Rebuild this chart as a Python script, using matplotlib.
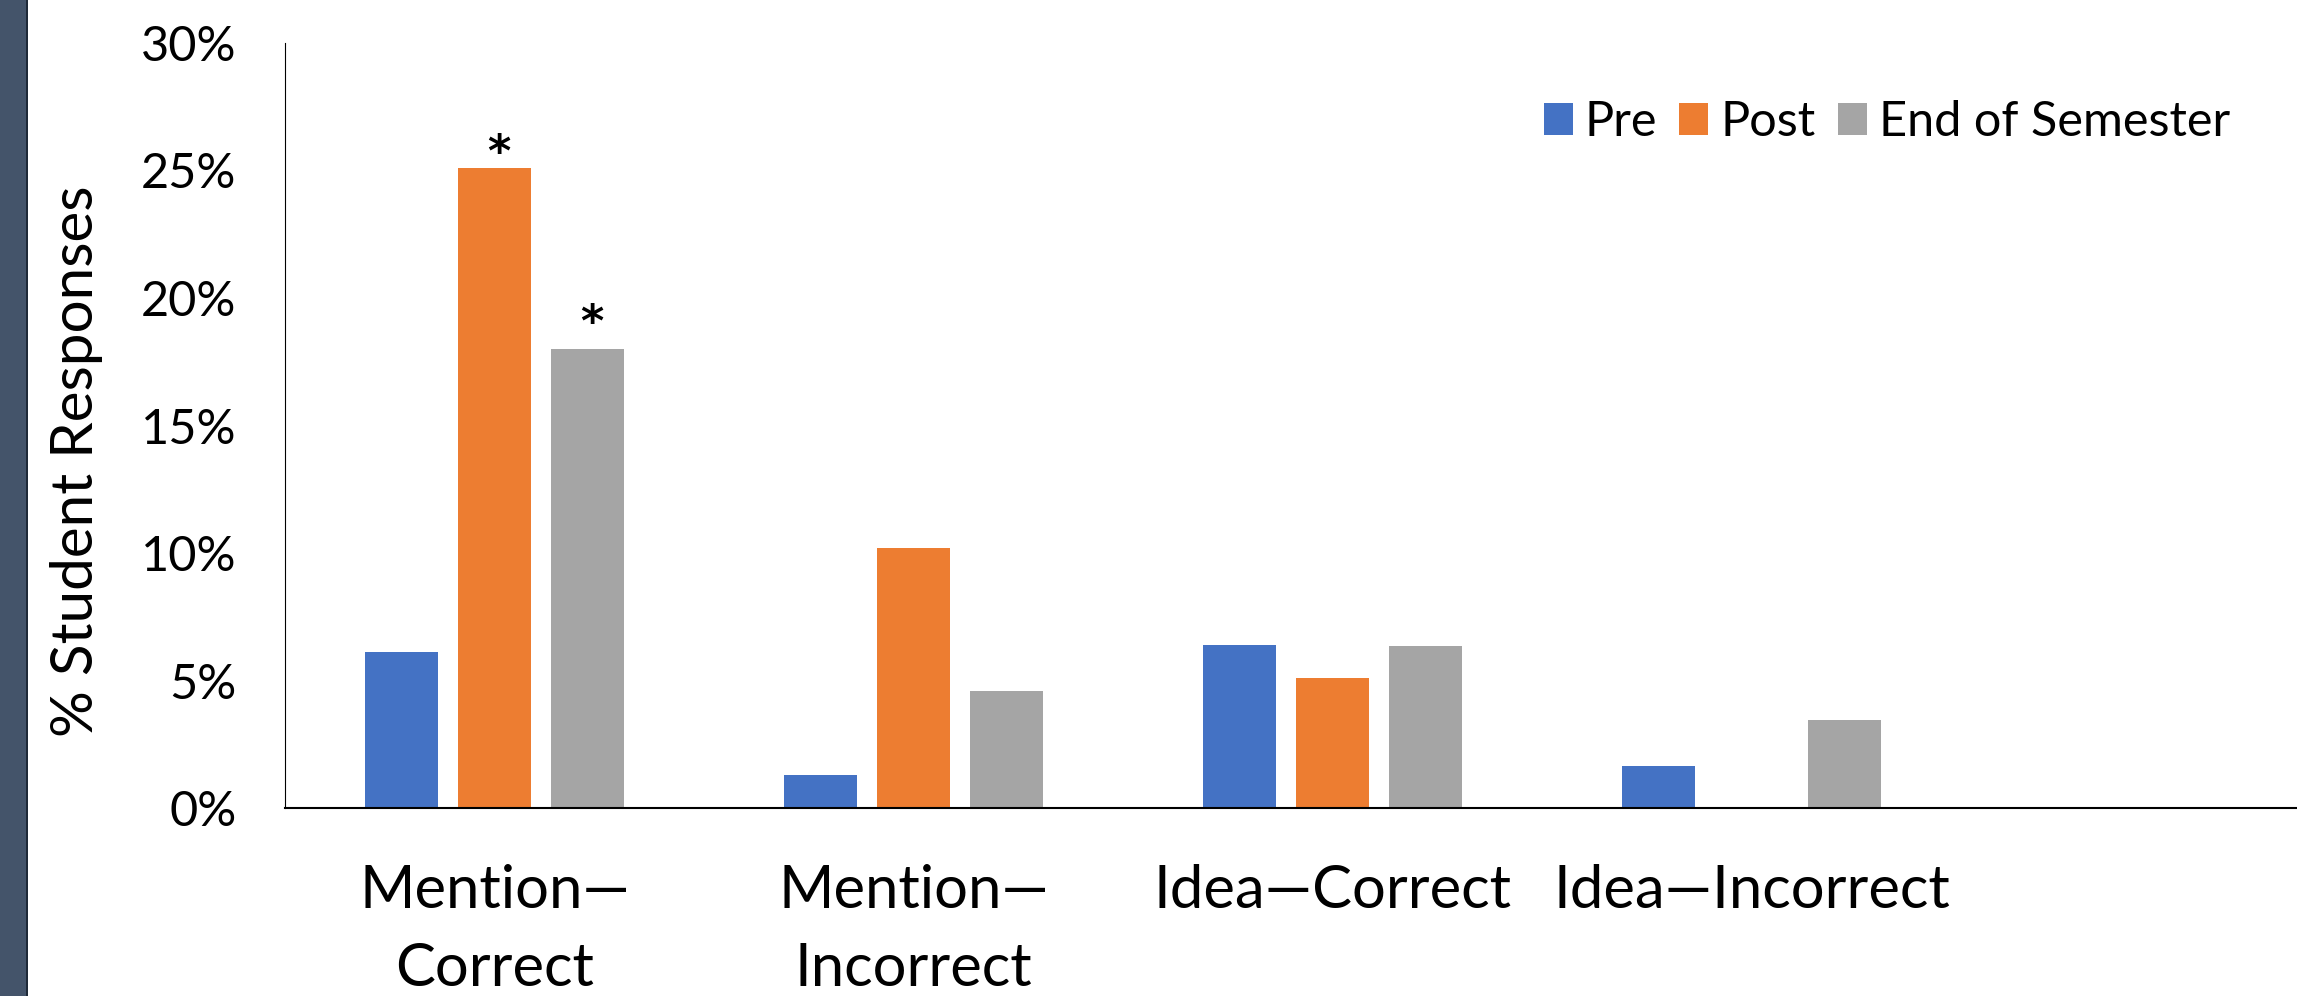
import matplotlib
matplotlib.use("Agg")
import matplotlib.pyplot as plt
import numpy as np
from matplotlib.patches import Rectangle

plt.rcParams['font.family'] = ['Lato', 'DejaVu Sans']

categories = ["Mention\u2014\nCorrect", "Mention\u2014\nIncorrect", "Idea\u2014Correct", "Idea\u2014Incorrect"]
pre = [6.1, 1.3, 6.4, 1.65]
post = [25.1, 10.2, 5.1, 0.0]
end_sem = [18.0, 4.6, 6.35, 3.45]
series = ["Pre", "Post", "End of Semester"]
colors = ["#4472C4", "#ED7D31", "#A5A5A5"]
# significance markers: (category index, series index, gap above bar)
stars = [(0, 1, 0.55), (0, 2, 1.0)]

fig = plt.figure(figsize=(22.97, 9.96), dpi=100)
ax = fig.add_axes([285 / 2297, (996 - 808) / 996, 1 - 285 / 2297, (808 - 43) / 996])

# dark band on the left edge
fig.patches.append(Rectangle((0, 0), 26 / 2297, 1, transform=fig.transFigure,
                             facecolor="#44546A", edgecolor="none"))
fig.patches.append(Rectangle((26 / 2297, 0), 1.5 / 2297, 1, transform=fig.transFigure,
                             facecolor="#1f2a38", edgecolor="none"))

x = np.arange(len(categories))
width = 0.172
step = 0.222
data = [pre, post, end_sem]
for i, (name, vals, c) in enumerate(zip(series, data, colors)):
    ax.bar(x + (i - 1) * step, vals, width, color=c, label=name)

for ci, si, gap in stars:
    val = data[si][ci]
    ax.text(x[ci] + (si - 1) * step + 0.01, val + gap, "*", ha="center", va="center",
            fontsize=32, fontweight="bold", family="DejaVu Sans")

ax.set_xlim(-0.5, (2297 - 285) / 419 - 0.5)
ax.set_ylim(0, 30)
ax.set_yticks(np.arange(0, 31, 5))
ax.set_yticklabels([f"{v}%" for v in range(0, 31, 5)])
ax.set_xticks(x)
ax.set_xticklabels(categories, linespacing=1.55)
ax.tick_params(axis="y", length=0, pad=35, labelsize=35)
ax.tick_params(axis="x", length=0, pad=40, labelsize=43)
ax.set_ylabel("% Student Responses", fontsize=42)
ax.yaxis.set_label_coords((103 - 285) / 2012, (808 - 461) / 765)

for s in ["top", "right"]:
    ax.spines[s].set_visible(False)
ax.spines["left"].set_linewidth(0.8)
ax.spines["bottom"].set_linewidth(1.5)

ax.legend(loc="center right", bbox_to_anchor=((2230 - 285) / 2012, (808 - 122) / 765),
          ncol=3, frameon=False, borderpad=0, borderaxespad=0,
          fontsize=35, handlelength=0.6, handleheight=0.65, handletextpad=0.25,
          columnspacing=0.45)

fig.savefig("out.png", dpi=100)
